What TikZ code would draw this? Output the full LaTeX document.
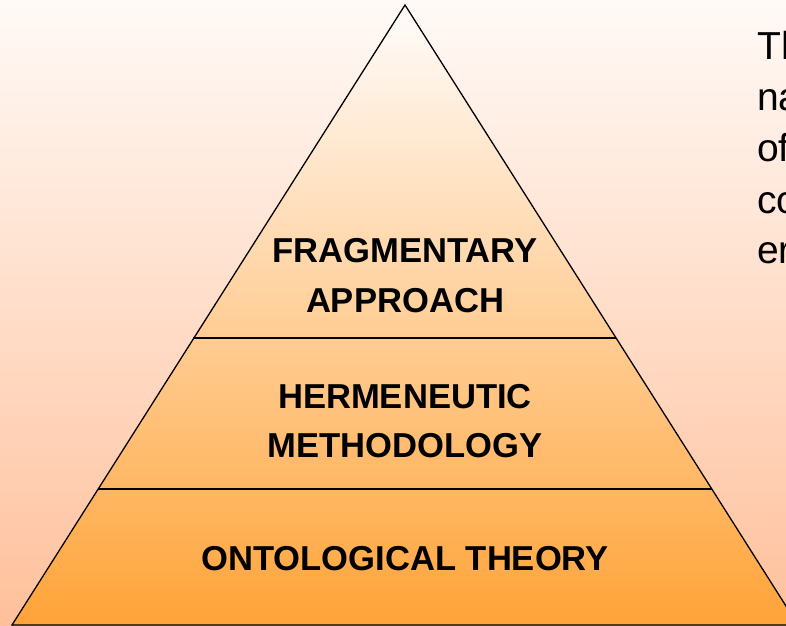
\documentclass[tikz,border=0pt]{standalone}
\usepackage{fontspec}
\setmainfont{Liberation Sans}
\usepackage{tikz}
\definecolor{bgtop}{RGB}{255,250,247}
\definecolor{bgmid}{RGB}{255,229,216}
\definecolor{bgbot}{RGB}{255,192,155}
\definecolor{pyrtop}{RGB}{255,252,252}
\definecolor{pyrmid}{RGB}{250,216,206}
\definecolor{pyrbot}{RGB}{255,163,56}
\tikzset{
  layer/.style = {inner sep=0pt, anchor=base, font=\fontsize{34.6}{40}\selectfont\bfseries},
  side/.style = {inner sep=0pt, anchor=base west, font=\fontsize{39}{46}\selectfont},
  divider/.style = {draw=black, line width=2.2pt},
}

\begin{document}
\begin{tikzpicture}[x=1pt, y=1pt]
  \useasboundingbox (0,0) rectangle (786,625);
  \clip (0,0) rectangle (786,625);
  \fill[top color=bgtop, middle color=bgmid, bottom color=bgbot] (0,0) rectangle (786,625);

  \coordinate (apex) at (405,620);
  \coordinate (baseL) at (12,0);
  \coordinate (baseR) at (798,0);
  \coordinate (midL) at (193,287);
  \coordinate (midR) at (616,287);
  \coordinate (lowL) at (98,136);
  \coordinate (lowR) at (712,136);

  \filldraw[line width=1.3pt, top color=pyrtop, middle color=pyrmid, bottom color=pyrbot]
    (apex) -- (baseR) -- (baseL) -- cycle;
  \draw[divider] (midL) -- (midR);
  \draw[divider] (lowL) -- (lowR);

  \node [layer] (frag) at (405,363) {FRAGMENTARY};
  \node [layer] (appr) at (405,313) {APPROACH};
  \node [layer] (herm) at (405,217) {HERMENEUTIC};
  \node [layer] (meth) at (405,168) {METHODOLOGY};
  \node [layer] (onto) at (405,55) {ONTOLOGICAL THEORY};

  \node [side] (line1) at (757,565) {Th};
  \node [side] (line2) at (757,514) {na};
  \node [side] (line3) at (757,463) {of};
  \node [side] (line4) at (757,412) {co};
  \node [side] (line5) at (757,362) {er};
\end{tikzpicture}
\end{document}
